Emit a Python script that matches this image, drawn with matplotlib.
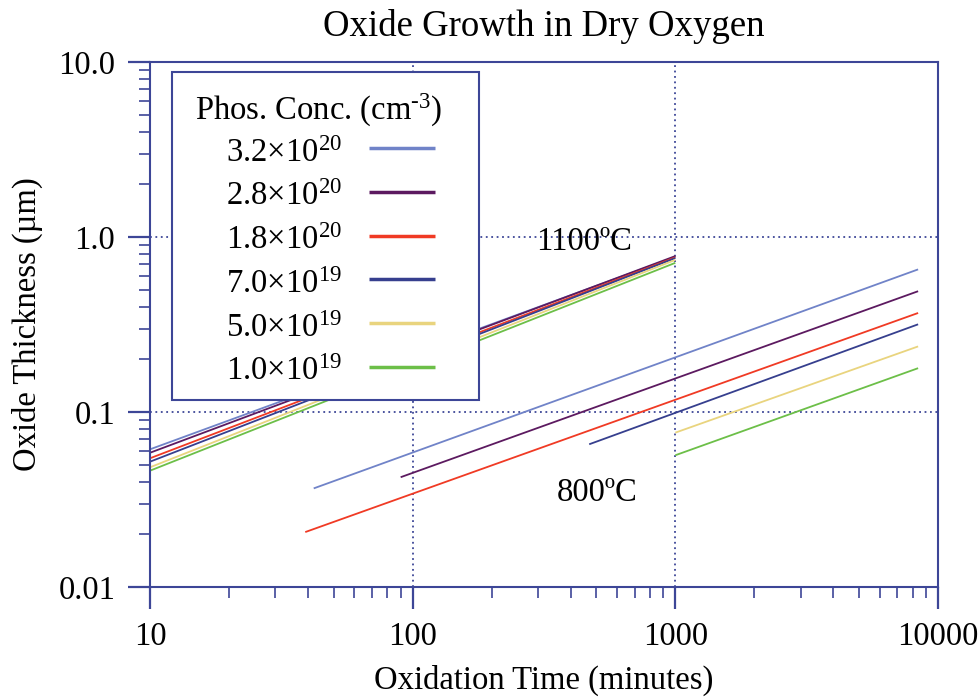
import matplotlib
matplotlib.use("Agg")
import matplotlib.pyplot as plt
from matplotlib.patches import Rectangle
from matplotlib.ticker import LogLocator, NullFormatter, FixedLocator, FixedFormatter

plt.rcParams['font.family'] = ['Liberation Serif', 'DejaVu Serif']
plt.rcParams['mathtext.fontset'] = 'custom'
plt.rcParams['mathtext.rm'] = 'Liberation Serif'
plt.rcParams['mathtext.it'] = 'Liberation Serif'

# ---- data ----
conc_labels = [r"3.2$\times$10$^{\mathrm{20}}$", r"2.8$\times$10$^{\mathrm{20}}$",
               r"1.8$\times$10$^{\mathrm{20}}$", r"7.0$\times$10$^{\mathrm{19}}$",
               r"5.0$\times$10$^{\mathrm{19}}$", r"1.0$\times$10$^{\mathrm{19}}$"]
colors = ["#7083c8", "#5c1a60", "#f03a24", "#363f8e", "#e9d47e", "#6cbf48"]

# 1100 C: time (min) endpoints and thickness (um)
t1100 = [10, 1000]
th1100_a = [0.0612, 0.770]
th1100_b = [0.0585, 0.778]
th1100_c = [0.0544, 0.765]
th1100_d = [0.0520, 0.758]
th1100_e = [0.0483, 0.740]
th1100_f = [0.0462, 0.712]
th1100 = [th1100_a, th1100_b, th1100_c, th1100_d, th1100_e, th1100_f]

# 800 C
t800_a = [42, 8400];  th800_a = [0.0366, 0.653]
t800_b = [90, 8400];  th800_b = [0.0424, 0.490]
t800_c = [39, 8400];  th800_c = [0.0206, 0.368]
t800_d = [470, 8400]; th800_d = [0.0654, 0.317]
t800_e = [1000, 8400]; th800_e = [0.0762, 0.237]
t800_f = [1000, 8400]; th800_f = [0.0566, 0.178]
t800 = [t800_a, t800_b, t800_c, t800_d, t800_e, t800_f]
th800 = [th800_a, th800_b, th800_c, th800_d, th800_e, th800_f]

xticks = [10, 100, 1000, 10000]
xticklabels = ["10", "100", "1000", "10000"]
yticks = [0.01, 0.1, 1.0, 10.0]
yticklabels = ["0.01", "0.1", "1.0", "10.0"]

axc = "#3d4697"
fs = 23.5

W, H = 980, 698
AX_L, AX_R, AX_T, AX_B = 150, 938, 62, 587

fig = plt.figure(figsize=(9.8, 6.98), dpi=100)
ax = fig.add_axes([AX_L/W, 1-AX_B/H, (AX_R-AX_L)/W, (AX_B-AX_T)/H])
ax.set_xscale('log')
ax.set_yscale('log')
ax.set_xlim(10, 10000)
ax.set_ylim(0.01, 10)

for i in range(6):
    ax.plot(t1100, th1100[i], color=colors[i], lw=1.3, solid_capstyle='butt')
    ax.plot(t800[i], th800[i], color=colors[i], lw=1.3, solid_capstyle='butt')

ax.xaxis.set_major_locator(FixedLocator(xticks))
ax.xaxis.set_major_formatter(FixedFormatter(xticklabels))
ax.yaxis.set_major_locator(FixedLocator(yticks))
ax.yaxis.set_major_formatter(FixedFormatter(yticklabels))
ax.xaxis.set_minor_locator(LogLocator(base=10, subs=range(2, 10), numticks=20))
ax.yaxis.set_minor_locator(LogLocator(base=10, subs=range(2, 10), numticks=20))
ax.xaxis.set_minor_formatter(NullFormatter())
ax.yaxis.set_minor_formatter(NullFormatter())

ax.tick_params(which='major', direction='out', length=16, width=1.6, color=axc,
               labelsize=fs, top=False, right=False)
ax.tick_params(axis='x', which='major', pad=9)
ax.tick_params(axis='y', which='major', pad=9)
ax.tick_params(which='minor', direction='out', length=8, width=1.2, color=axc,
               top=False, right=False)
for s in ax.spines.values():
    s.set_color(axc)
    s.set_linewidth(1.5)

ax.grid(True, which='major', linestyle=(0, (1, 2)), color=axc, lw=1.3)

ax.set_title("Oxide Growth in Dry Oxygen", fontsize=26.5, pad=19)
ax.set_xlabel("Oxidation Time (minutes)", fontsize=fs, labelpad=9)
ax.set_ylabel("Oxide Thickness (µm)", fontsize=fs, labelpad=11)

ax.text(451, 0.936, "1100ºC", fontsize=fs, ha='center', va='center')
ax.text(505, 0.0344, "800ºC", fontsize=fs, ha='center', va='center')

# ---- legend box (layout in axes fraction, from pixel layout) ----
def fx(px):
    return (px - AX_L) / (AX_R - AX_L)

def fy(py):
    return (AX_B - py) / (AX_B - AX_T)

box = Rectangle((fx(172), fy(400)), fx(479) - fx(172), fy(72) - fy(400),
                transform=ax.transAxes, facecolor='white', edgecolor=axc,
                lw=1.5, zorder=5, clip_on=False)
ax.add_patch(box)
ax.text(fx(319), fy(110), "Phos. Conc. (cm$^{\\mathrm{\u20103}}$)", fontsize=fs,
        ha='center', va='center', transform=ax.transAxes, zorder=6)
row0, drow = 148.0, 43.8
for i, (lab, c) in enumerate(zip(conc_labels, colors)):
    yc = row0 + drow * i
    ax.text(fx(342), fy(yc + 13.5), lab, fontsize=fs, ha='right', va='baseline',
            transform=ax.transAxes, zorder=6)
    ax.plot([fx(369), fx(435)], [fy(yc), fy(yc)], color=c, lw=2.5,
            transform=ax.transAxes, zorder=6, clip_on=False, solid_capstyle='butt')

fig.savefig("out.png", dpi=100)
